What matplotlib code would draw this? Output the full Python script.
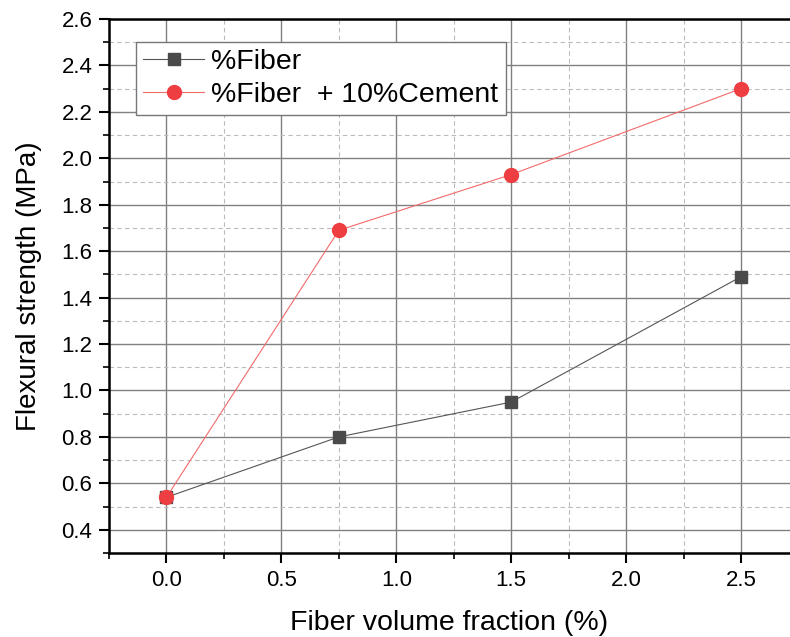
import matplotlib
matplotlib.use("Agg")
import matplotlib.pyplot as plt
from matplotlib.ticker import MultipleLocator, FormatStrFormatter

x = [0.0, 0.75, 1.5, 2.5]
fiber = [0.54, 0.80, 0.95, 1.49]
fiber_cement = [0.54, 1.69, 1.93, 2.30]
labels = ["%Fiber", "%Fiber  + 10%Cement"]

plt.rcParams['font.family'] = ['Liberation Sans', 'DejaVu Sans']

fig = plt.figure(figsize=(7.9, 6.37), dpi=100)
ax = fig.add_axes([109/790, 1-553/637, 1-109/790, (553-19)/637])

ax.plot(x, fiber, color='#555555', lw=0.8, marker='s', ms=9,
        mfc='#4a4a4a', mec='#4a4a4a', label=labels[0], zorder=3)
ax.plot(x, fiber_cement, color='#f26b6b', lw=0.8, marker='o', ms=10,
        mfc='#ee3e42', mec='#ee3e42', label=labels[1], zorder=4)

ax.set_xlim(-0.25, 2.713)
ax.set_ylim(0.3, 2.6)
ax.xaxis.set_major_locator(MultipleLocator(0.5))
ax.xaxis.set_minor_locator(MultipleLocator(0.25))
ax.yaxis.set_major_locator(MultipleLocator(0.2))
ax.yaxis.set_minor_locator(MultipleLocator(0.1))
ax.xaxis.set_major_formatter(FormatStrFormatter('%.1f'))
ax.yaxis.set_major_formatter(FormatStrFormatter('%.1f'))
ax.set_yticks([0.4 + 0.2*i for i in range(12)])

ax.grid(which='major', color='#808080', lw=1.0, ls='-')
ax.grid(which='minor', color='#bbbbbb', lw=0.8, ls=(0, (4, 3)))
ax.set_axisbelow(True)

for s in ['left', 'bottom', 'top']:
    ax.spines[s].set_linewidth(1.8)
    ax.spines[s].set_color('black')
ax.spines['right'].set_visible(False)

ax.tick_params(which='major', direction='out', length=7, width=1.5, labelsize=16)
ax.tick_params(which='minor', direction='out', length=4, width=1.2)
ax.tick_params(axis='x', which='major', pad=5)
ax.tick_params(axis='y', which='major', pad=5)

ax.set_xlabel('Fiber volume fraction (%)', fontsize=20.5, labelpad=14)
ax.set_ylabel('Flexural strength (MPa)', fontsize=20, labelpad=14)

leg = ax.legend(loc='upper left', bbox_to_anchor=(27/681, 1-23/534), fontsize=20.5,
                frameon=True, fancybox=False, framealpha=1, edgecolor='#777777',
                borderpad=0.25, handlelength=2.15, handletextpad=0.25, labelspacing=0.25,
                borderaxespad=0)
leg.get_frame().set_linewidth(1.0)

fig.savefig('out.png', dpi=100)
